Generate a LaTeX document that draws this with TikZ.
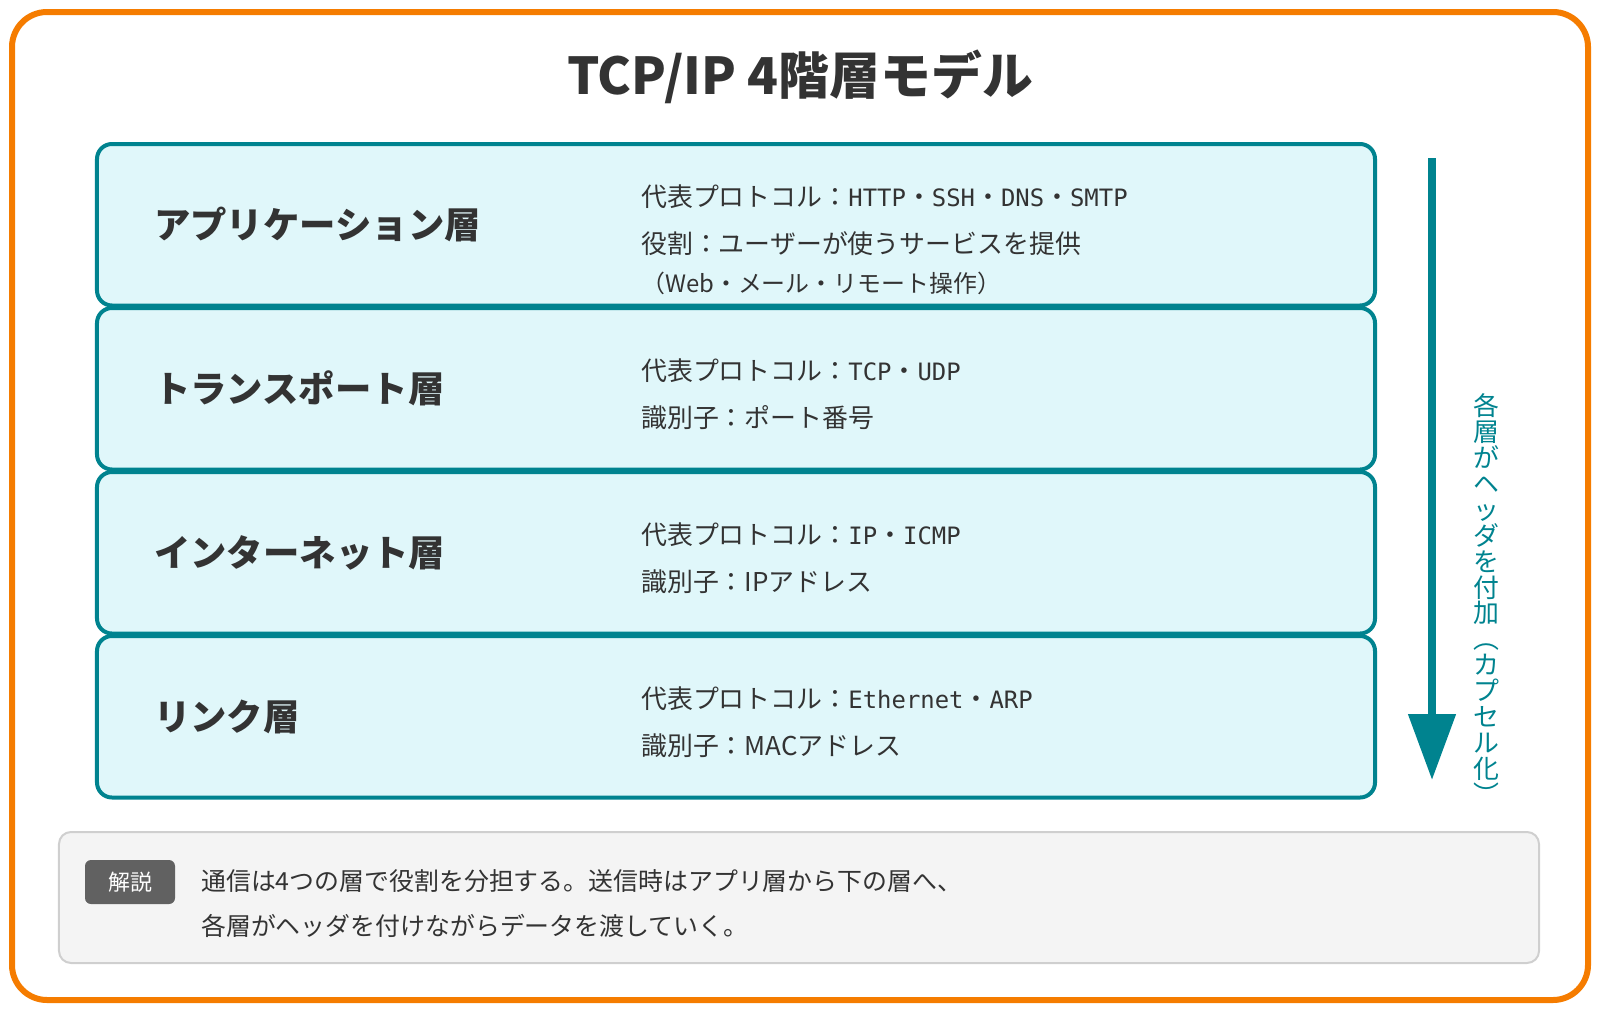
\documentclass[tikz,border=0pt]{standalone}
\usepackage{fontspec}
\setmainfont{Noto Sans CJK JP}
\setmonofont{DejaVu Sans Mono}
\usetikzlibrary{arrows.meta,positioning}

\definecolor{frameorange}{HTML}{F57C00}
\definecolor{layerteal}{HTML}{00838F}
\definecolor{layerfill}{HTML}{E0F7FA}
\definecolor{textdark}{HTML}{333333}
\definecolor{notefill}{HTML}{F4F4F4}
\definecolor{noteline}{HTML}{CFCFCF}
\definecolor{badgegray}{HTML}{616161}

\newcommand{\mono}[1]{{\fontsize{24}{30}\selectfont\ttfamily #1}}

\tikzstyle{frame}=[draw=frameorange,line width=6bp,rounded corners=35bp]
\tikzstyle{layerbox}=[draw=layerteal,fill=layerfill,line width=4bp,rounded corners=15bp,minimum width=1278bp,minimum height=161.5bp,inner sep=0pt]
\tikzstyle{layername}=[font=\fontsize{36.5}{44}\selectfont\bfseries,text=textdark,anchor=west,inner sep=0pt]
\tikzstyle{info}=[font=\fontsize{26}{31}\selectfont,text=textdark,anchor=west,inner sep=0pt]
\tikzstyle{infosmall}=[font=\fontsize{24}{29}\selectfont,text=textdark,anchor=west,inner sep=0pt]
\tikzstyle{flow}=[draw=layerteal,line width=8bp,-{Triangle[length=66bp,width=46bp]}]
\tikzstyle{vtext}=[font=\fontsize{26}{26}\selectfont,text=layerteal,align=center,inner sep=0pt]
\tikzstyle{notebox}=[draw=noteline,fill=notefill,line width=2bp,rounded corners=12bp,minimum width=1480bp,minimum height=131bp,inner sep=0pt]
\tikzstyle{badge}=[fill=badgegray,text=white,rounded corners=6bp,minimum width=90bp,minimum height=44bp,inner sep=0pt,font=\fontsize{22}{26}\selectfont]
\tikzstyle{notetext}=[font=\fontsize{25}{30}\selectfont,text=textdark,anchor=west,inner sep=0pt]

\begin{document}
\begin{tikzpicture}[x=1bp,y=-1bp]

    \useasboundingbox (0,0) rectangle (1600,1012);
    \draw[frame] (12,12) rectangle (1588,1000);

    \node[font=\fontsize{51}{61}\selectfont\bfseries, text=textdark] (title) at (800,77) {TCP/IP 4階層モデル};

    % layers
    \foreach \i/\name/\label in {1/app/アプリケーション層, 2/trans/トランスポート層, 3/inet/インターネット層, 4/link/リンク層}
    {
        \node[layerbox] (\name) at (736, {224.75+164*(\i-1)}) {};
        \node[layername, right=59bp of \name.west] (\name-label) {\label};
    }

    \node[info] (app-proto) at (641,197) {代表プロトコル：\mono{HTTP}・\mono{SSH}・\mono{DNS}・\mono{SMTP}};
    \node[info] (app-role) at (641,244) {役割：ユーザーが使うサービスを提供};
    \node[infosmall] (app-note) at (641,283) {（Web・メール・リモート操作）};

    \node[info] (trans-proto) at (641,371) {代表プロトコル：\mono{TCP}・\mono{UDP}};
    \node[info] (trans-id) at (641,418) {識別子：ポート番号};

    \node[info] (inet-proto) at (641,535) {代表プロトコル：\mono{IP}・\mono{ICMP}};
    \node[info] (inet-id) at (641,582) {識別子：IPアドレス};

    \node[info] (link-proto) at (641,699) {代表プロトコル：\mono{Ethernet}・\mono{ARP}};
    \node[info] (link-id) at (641,746) {識別子：MACアドレス};

    % encapsulation arrow
    \coordinate (flowtop) at (1432,158);
    \coordinate (flowend) at (1432,780);
    \draw[flow] (flowtop) -- (flowend);
    \node[vtext] (encap) at (1486,599) {各\\層\\が\\ヘ\\ッ\\ダ\\を\\付\\加\\︵\\カ\\プ\\セ\\ル\\化\\︶};

    % note
    \node[notebox] (note) at (799,897.5) {};
    \node[badge] (badge) at (130,882) {解説};
    \node[notetext] (note-l1) at (201,881) {通信は4つの層で役割を分担する。送信時はアプリ層から下の層へ、};
    \node[notetext] (note-l2) at (201,926) {各層がヘッダを付けながらデータを渡していく。};

\end{tikzpicture}
\end{document}
